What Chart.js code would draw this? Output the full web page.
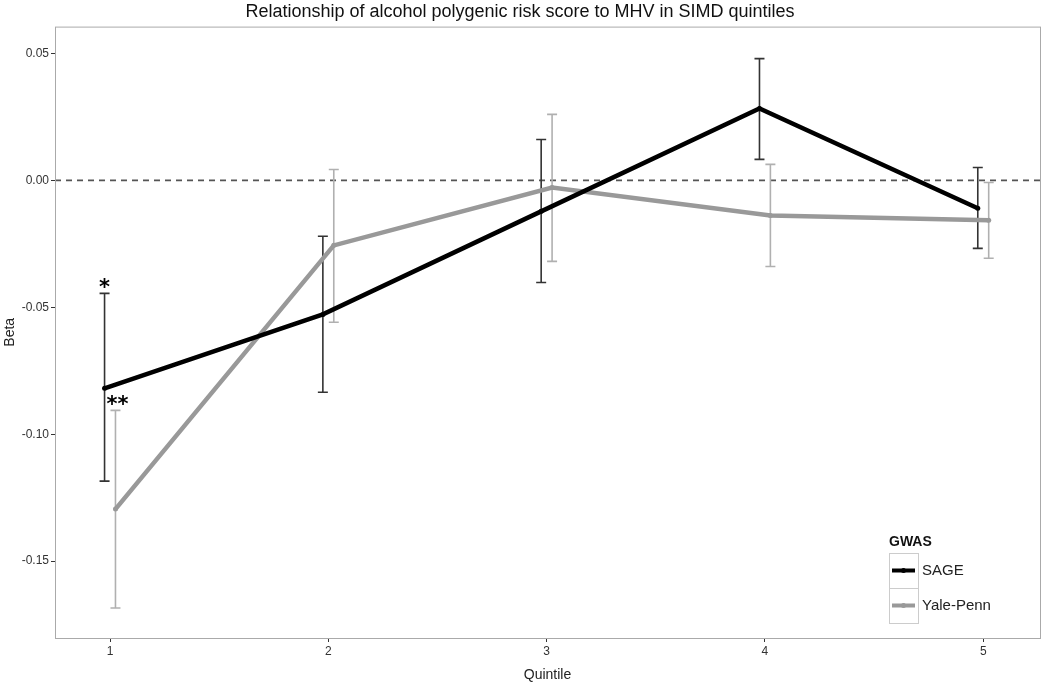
<!DOCTYPE html>
<html>
<head>
<meta charset="utf-8">
<script src="https://cdn.jsdelivr.net/npm/chart.js@4.4.1/dist/chart.umd.min.js"></script>
<style>
  html, body { margin: 0; padding: 0; background: #fff; }
  #wrap { width: 1050px; height: 684px; }
</style>
</head>
<body>
<div id="wrap"><canvas id="myChart"></canvas></div>
<script>
const quintiles = [1, 2, 3, 4, 5];
const yTicks = [-0.15, -0.10, -0.05, 0.00, 0.05];

const sageBeta = [-0.0819, -0.0528, -0.0122, 0.0283, -0.0110];
const sageLow  = [-0.1185, -0.0835, -0.0402, 0.0083, -0.0268];
const sageHigh = [-0.0445, -0.0220, 0.0161, 0.0480, 0.0051];
const sageSig  = ["*", "", "", "", ""];

const yaleBeta = [-0.1295, -0.0256, -0.0028, -0.0138, -0.0157];
const yaleLow  = [-0.1685, -0.0559, -0.0319, -0.0339, -0.0307];
const yaleHigh = [-0.0906, 0.0043, 0.0260, 0.0063, -0.0008];
const yaleSig  = ["**", "", "", "", ""];

const dodge = 0.025;
const FONT = "'Liberation Sans', Arial, sans-serif";

function points(beta, offset) {
  return quintiles.map((q, i) => ({ x: q + offset, y: beta[i] }));
}

const series = [
  { label: "SAGE", beta: sageBeta, low: sageLow, high: sageHigh, sig: sageSig,
    offset: -dodge, line: "#000000", bar: "#333333" },
  { label: "Yale-Penn", beta: yaleBeta, low: yaleLow, high: yaleHigh, sig: yaleSig,
    offset: dodge, line: "#999999", bar: "#b0b0b0" },
];

// error bars, zero line, panel border, stars
const extras = {
  id: "extras",
  beforeDatasetsDraw(chart) {
    const { ctx, chartArea: a, scales: { x, y } } = chart;
    ctx.save();
    // zero reference line
    ctx.strokeStyle = "#555";
    ctx.lineWidth = 1.6;
    ctx.setLineDash([6, 5]);
    ctx.beginPath();
    ctx.moveTo(a.left, y.getPixelForValue(0));
    ctx.lineTo(a.right, y.getPixelForValue(0));
    ctx.stroke();
    ctx.setLineDash([]);

    series.forEach(s => {
      ctx.strokeStyle = s.bar;
      ctx.lineWidth = 1.6;
      quintiles.forEach((q, i) => {
        const px = x.getPixelForValue(q + s.offset);
        const top = y.getPixelForValue(s.high[i]);
        const bot = y.getPixelForValue(s.low[i]);
        ctx.beginPath();
        ctx.moveTo(px, top); ctx.lineTo(px, bot);
        ctx.moveTo(px - 5, top); ctx.lineTo(px + 5, top);
        ctx.moveTo(px - 5, bot); ctx.lineTo(px + 5, bot);
        ctx.stroke();
      });
    });
    ctx.restore();
  },
  afterDraw(chart) {
    const { ctx, chartArea: a, scales: { x, y } } = chart;
    ctx.save();
    ctx.strokeStyle = "#aaaaaa";
    ctx.lineWidth = 1;
    ctx.strokeRect(a.left + 0.5, a.top + 0.5, a.right - a.left, a.bottom - a.top);

    // significance stars above the upper cap
    ctx.fillStyle = "#000";
    ctx.font = "bold 21px 'DejaVu Sans', sans-serif";
    ctx.textAlign = "center";
    ctx.textBaseline = "middle";
    series.forEach(s => {
      s.sig.forEach((t, i) => {
        if (!t) return;
        const px = x.getPixelForValue(quintiles[i] + s.offset);
        const py = y.getPixelForValue(s.high[i]);
        ctx.fillText(t, px + (t.length > 1 ? 2 : 0), py - 5);
      });
    });

    // legend inside the panel, bottom right
    const bx = a.right - 151, bw = 29, rh = 35;
    const by = a.bottom - 15 - rh * series.length;
    ctx.fillStyle = "#111";
    ctx.font = "bold 14px " + FONT;
    ctx.textAlign = "left";
    ctx.textBaseline = "alphabetic";
    ctx.fillText("GWAS", bx, by - 7);
    series.forEach((s, k) => {
      const ty = by + k * rh;
      ctx.strokeStyle = "#cccccc";
      ctx.lineWidth = 1;
      ctx.strokeRect(bx + 0.5, ty + 0.5, bw, rh);
      const my = ty + rh / 2;
      ctx.strokeStyle = s.line;
      ctx.lineWidth = 4;
      ctx.beginPath();
      ctx.moveTo(bx + 3, my); ctx.lineTo(bx + bw - 3, my);
      ctx.stroke();
      ctx.fillStyle = s.line;
      ctx.beginPath();
      ctx.arc(bx + bw / 2, my, 2.5, 0, Math.PI * 2);
      ctx.fill();
      ctx.fillStyle = "#222";
      ctx.font = "15px " + FONT;
      ctx.textBaseline = "middle";
      ctx.fillText(s.label, bx + bw + 4, my);
    });
    ctx.restore();
  },
};

const ctx = document.getElementById("myChart").getContext("2d");
new Chart(ctx, {
  type: "line",
  data: {
    datasets: series.map(s => ({
      label: s.label,
      data: points(s.beta, s.offset),
      borderColor: s.line,
      backgroundColor: s.line,
      borderWidth: 4.5,
      pointRadius: 2.5,
      pointBorderWidth: 0,
      tension: 0,
    })),
  },
  options: {
    responsive: true,
    maintainAspectRatio: false,
    animation: false,
    layout: { padding: { left: 0, right: 10, top: 0, bottom: 0 } },
    plugins: {
      legend: { display: false },
      tooltip: { enabled: false },
      title: {
        display: true,
        text: "Relationship of alcohol polygenic risk score to MHV in SIMD quintiles",
        color: "#111",
        font: { family: FONT, size: 18, weight: "normal" },
        padding: { top: 1, bottom: 4 },
      },
    },
    scales: {
      x: {
        type: "linear",
        min: 0.748,
        max: 5.26,
        afterBuildTicks: s => { s.ticks = quintiles.map(v => ({ value: v })); },
        afterFit: s => { s.height = 46; },
        grid: { display: true, drawOnChartArea: false, drawTicks: true, tickLength: 4, color: "#333" },
        border: { display: false },
        ticks: { color: "#333", font: { family: FONT, size: 12 }, padding: 2,
                 callback: v => String(v) },
        title: { display: true, text: "Quintile", color: "#222",
                 font: { family: FONT, size: 14 }, padding: { top: 0, bottom: 0 } },
      },
      y: {
        min: -0.1803,
        max: 0.0606,
        afterBuildTicks: s => { s.ticks = yTicks.map(v => ({ value: v })); },
        afterFit: s => { s.width = 55; },
        grid: { display: true, drawOnChartArea: false, drawTicks: true, tickLength: 4, color: "#333" },
        border: { display: false },
        ticks: { color: "#333", font: { family: FONT, size: 12 }, padding: 2,
                 callback: v => Number(v).toFixed(2) },
        title: { display: true, text: "Beta", color: "#222",
                 font: { family: FONT, size: 14 }, padding: { top: 2, bottom: 0 } },
      },
    },
  },
  plugins: [extras],
});
</script>
</body>
</html>
